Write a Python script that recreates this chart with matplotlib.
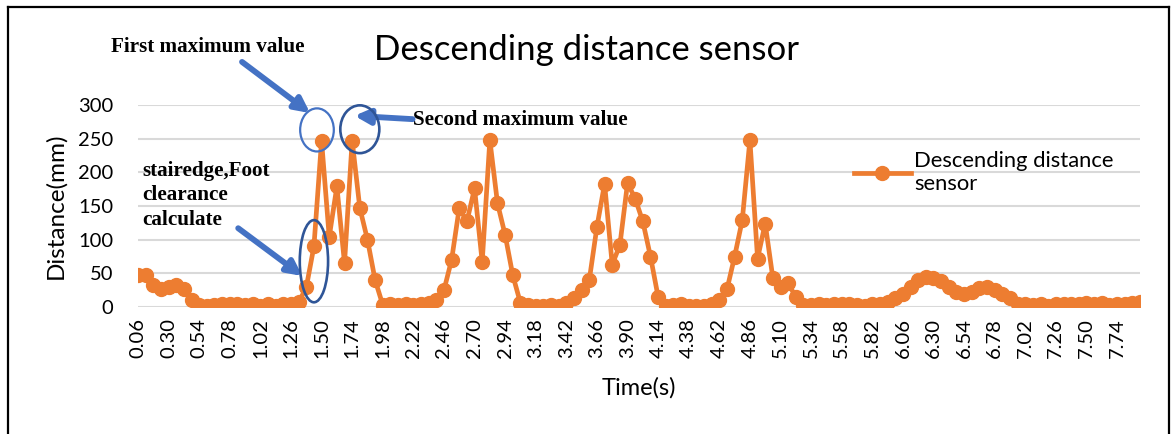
import matplotlib.pyplot as plt
from matplotlib.patches import Ellipse
from matplotlib.lines import Line2D

# time axis: 0.06 s steps, 132 samples
time_s = [round(0.06 * (k + 1), 2) for k in range(132)]

distance_mm = [
    48, 47, 33, 26, 30, 33, 26, 10, 3, 2,
    3, 4, 5, 5, 3, 4, 1, 4, 2, 4,
    5, 7, 29, 90, 247, 104, 179, 65, 247, 147,
    100, 40, 3, 4, 3, 5, 3, 4, 6, 10,
    25, 70, 147, 127, 176, 67, 248, 154, 107, 47,
    6, 3, 2, 1, 3, 1, 6, 14, 25, 40,
    119, 183, 63, 92, 184, 161, 127, 75, 15, 1,
    3, 4, 2, 1, 2, 5, 10, 26, 75, 129,
    248, 72, 124, 43, 30, 35, 15, 3, 3, 4,
    3, 5, 5, 4, 3, 2, 5, 4, 8, 13,
    20, 30, 40, 45, 43, 38, 30, 23, 20, 23,
    28, 30, 25, 20, 13, 5, 4, 3, 5, 2,
    5, 4, 4, 5, 6, 4, 6, 3, 5, 4,
    6, 7,
]

tick_labels = [f"{t:.2f}" for t in time_s]
y_ticks = [0, 50, 100, 150, 200, 250, 300]

orange = "#ED7D31"
light_blue = "#4472C4"
navy = "#2F5597"
sans = ["Lato", "DejaVu Sans"]
serif = ["Liberation Serif", "DejaVu Serif"]

fig = plt.figure(figsize=(11.73, 4.34), dpi=100)
ax = fig.add_axes([138 / 1173, 1 - 307 / 434, 1002 / 1173, 202 / 434])

idx = list(range(len(distance_mm)))
ax.plot(idx, distance_mm, color=orange, lw=3.4, marker="o", ms=10,
        label="Descending distance\nsensor", zorder=3)

ax.set_xlim(0, len(idx) - 1)
ax.set_ylim(0, 300)
ax.set_yticks(y_ticks)
ax.set_xticks(idx[::4])
ax.set_xticklabels(tick_labels[::4], rotation=90, family=sans, fontsize=14.5)
ax.set_yticklabels([str(v) for v in y_ticks], family=sans, fontsize=14.5)
ax.tick_params(axis="x", length=0, pad=8)
ax.tick_params(axis="y", length=0, pad=18)
ax.grid(axis="y", color="#d9d9d9", lw=1.5, zorder=0)
for s in ax.spines.values():
    s.set_visible(False)

ax.set_xlabel("Time(s)", family=sans, fontsize=17, labelpad=14)
ax.set_ylabel("Distance(mm)", family=sans, fontsize=17.5, labelpad=8)
fig.text(0.5, 1 - 50 / 434, "Descending distance sensor", ha="center",
         va="center", family=sans, fontsize=25)

leg = ax.legend(loc="center left", bbox_to_anchor=(696 / 1002, 0.665),
                frameon=False, handlelength=2.6, handletextpad=0.15,
                prop={"family": sans, "size": 15.8})

# annotations around the peaks
bold = dict(family=serif, fontweight="bold", fontsize=15.2, color="black")
arrow = dict(arrowstyle="-|>", lw=4.2, color=light_blue, mutation_scale=22,
             shrinkA=0, shrinkB=0)

ax.text(9.1, 386, "First maximum value", ha="center", va="center",
        clip_on=False, **bold)
ax.annotate("", xy=(22.5, 288), xytext=(13.6, 364), arrowprops=arrow,
            annotation_clip=False)
ax.add_patch(Ellipse((23.4, 263), 4.4, 64, fill=False, ec=light_blue,
                     lw=1.6, clip_on=False, zorder=4))

ax.add_patch(Ellipse((29.0, 264), 5.1, 71, fill=False, ec=navy,
                     lw=1.9, clip_on=False, zorder=4))
ax.text(35.9, 278, "Second maximum value", ha="left", va="center",
        clip_on=False, **bold)
ax.annotate("", xy=(28.3, 284), xytext=(35.9, 279), arrowprops=arrow,
            annotation_clip=False)

ax.text(0.6, 217, "stairedge,Foot\nclearance\ncalculate", ha="left",
        va="top", linespacing=1.3, clip_on=False, **bold)
ax.annotate("", xy=(21.5, 46), xytext=(13.1, 117), arrowprops=arrow,
            annotation_clip=False)
ax.add_patch(Ellipse((23.0, 68), 3.7, 122, fill=False, ec=navy,
                     lw=1.9, clip_on=False, zorder=4))

# outer frame
for xs, ys in [([8, 8], [7, 434]), ([8, 1169], [7, 7]), ([1169, 1169], [7, 434])]:
    fig.add_artist(Line2D([x / 1173 for x in xs], [1 - y / 434 for y in ys],
                          color="black", lw=1.6, transform=fig.transFigure))

fig.savefig("out.png", dpi=100)
